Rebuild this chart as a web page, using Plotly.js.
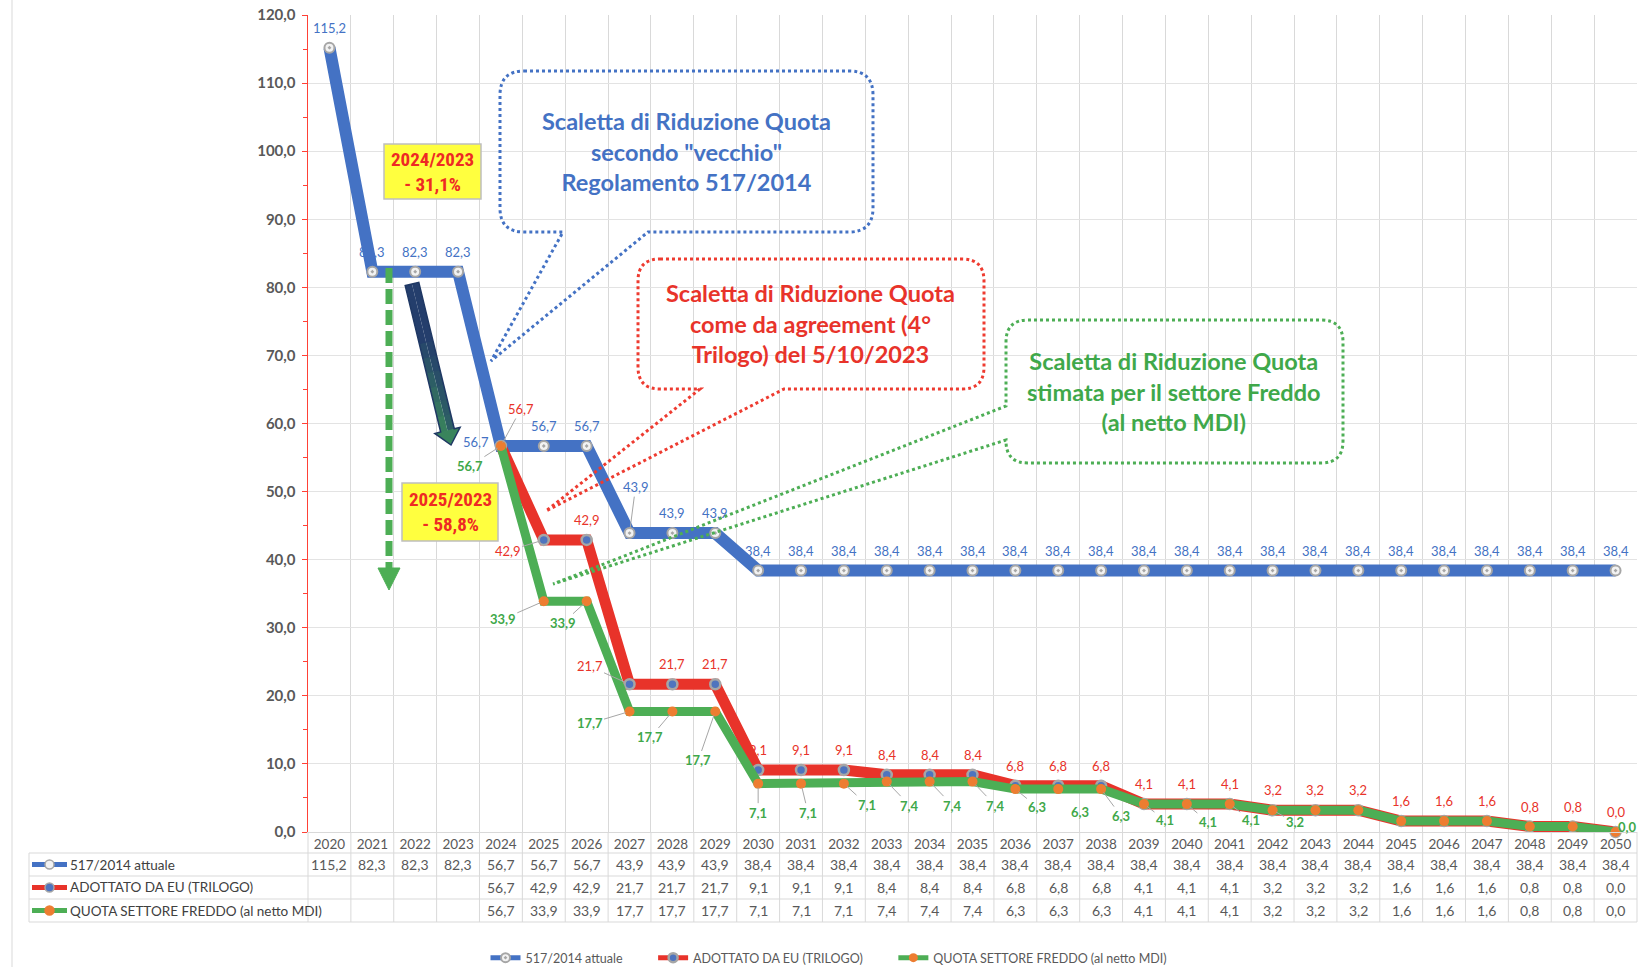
<!DOCTYPE html>
<html><head><meta charset="utf-8">
<script src="https://cdn.plot.ly/plotly-3.0.1.min.js"></script>
<style>html,body{margin:0;padding:0;background:#fff}#chart{width:1639px;height:967px}</style>
</head><body><div id="chart"></div>
<script>
// ---------------- DATA ----------------
const YEARS = ['2020','2021','2022','2023','2024','2025','2026','2027','2028','2029','2030',
  '2031','2032','2033','2034','2035','2036','2037','2038','2039','2040',
  '2041','2042','2043','2044','2045','2046','2047','2048','2049','2050'];
const SERIES_NAMES = ['517/2014 attuale', 'ADOTTATO DA EU (TRILOGO)', 'QUOTA SETTORE FREDDO (al netto MDI)'];
const BLUE_VALUES = [115.2, 82.3, 82.3, 82.3, 56.7, 56.7, 56.7, 43.9, 43.9, 43.9, 38.4,
  38.4, 38.4, 38.4, 38.4, 38.4, 38.4, 38.4, 38.4, 38.4, 38.4,
  38.4, 38.4, 38.4, 38.4, 38.4, 38.4, 38.4, 38.4, 38.4, 38.4];
const RED_VALUES = [null, null, null, null, 56.7, 42.9, 42.9, 21.7, 21.7, 21.7, 9.1,
  9.1, 9.1, 8.4, 8.4, 8.4, 6.8, 6.8, 6.8, 4.1, 4.1,
  4.1, 3.2, 3.2, 3.2, 1.6, 1.6, 1.6, 0.8, 0.8, 0.0];
const GREEN_VALUES = [null, null, null, null, 56.7, 33.9, 33.9, 17.7, 17.7, 17.7, 7.1,
  7.1, 7.1, 7.4, 7.4, 7.4, 6.3, 6.3, 6.3, 4.1, 4.1,
  4.1, 3.2, 3.2, 3.2, 1.6, 1.6, 1.6, 0.8, 0.8, 0.0];
const CALLOUT_TEXTS = [
  'Scaletta di Riduzione Quota<br>secondo "vecchio"<br>Regolamento 517/2014',
  'Scaletta di Riduzione Quota<br>come da agreement (4°<br>Trilogo) del 5/10/2023',
  'Scaletta di Riduzione Quota<br>stimata per il settore Freddo<br>(al netto MDI)'
];
const BOX_TEXTS = ['2024/2023<br>- 31,1%', '2025/2023<br>- 58,8%'];

// ---------------- STYLE / GEOMETRY ----------------
const FONT = 'Lato, "Noto Sans", sans-serif';
const NARROW = '"Liberation Sans Narrow", "Roboto Condensed", "Arial Narrow", Roboto, sans-serif';
const C_BLUE = '#4472C4', C_RED = '#E8332A', C_GREEN = '#4DAE55', C_GRAY = '#595959';
const W = 1639, H = 967, L = 308, R = 1637, T = 15, B = 832;
const PW = R - L, PH = B - T;
const NCAT = YEARS.length;
const px = x => (x - L) / PW, py = y => (B - y) / PH;
const P = (x, y) => px(x).toFixed(5) + ',' + py(y).toFixed(5);
const fmt = v => v.toFixed(1).replace('.', ',');

// label placements: [dx, dy, leader] in pixels; null = hidden
const BLUE_POS = {0: [0, -20], 4: [-25, -4], 7: [6, -46, true]};
const RED_POS = {4: [20, -37, true], 5: [-36, 11, true], 7: [-40, -18, true]};
const GREEN_POS = {4: [-31, 20, true], 5: [-41, 18, true], 6: [-24, 22, true], 7: [-40, 12, true],
  8: [-22, 26, true], 9: [-17, 49, true], 10: [0, 29, true], 11: [7, 29, true], 12: [23, 21, true],
  13: [23, 24, true], 14: [23, 24, true], 15: [23, 24, true], 16: [22, 18, true], 17: [22, 23, true],
  18: [20, 27, true], 19: [21, 16, true], 20: [21, 18, true], 21: [21, 16, true], 22: [22, 12, true],
  23: null, 24: null, 25: null, 26: null, 27: null, 28: null, 29: null, 30: [12, -5]};

function labelAnns(vals, color, weight, pos, def) {
  const out = [];
  vals.forEach((v, i) => {
    if (v === null) return;
    const p = (i in pos) ? pos[i] : def;
    if (p === null) return;
    const [dx, dy, leader] = p;
    const font = {family: FONT, size: 13, color: color, weight: weight};
    if (leader) {
      out.push({x: i, y: v, xref: 'x', yref: 'y', text: fmt(v), showarrow: true, ax: dx, ay: dy,
        arrowhead: 0, arrowwidth: 1, arrowcolor: '#A6A6A6', standoff: 4, font: font});
    } else {
      out.push({x: i, y: v, xref: 'x', yref: 'y', text: fmt(v), showarrow: false,
        xshift: dx, yshift: -dy, font: font});
    }
  });
  return out;
}

function bubble(x0, y0, x1, y1, r, tail) {
  let d = 'M' + P(x0 + r, y0) + ' L' + P(x1 - r, y0) + ' Q' + P(x1, y0) + ' ' + P(x1, y0 + r) +
    ' L' + P(x1, y1 - r) + ' Q' + P(x1, y1) + ' ' + P(x1 - r, y1);
  if (tail.side === 'bottom') d += ' L' + P(tail.b, y1) + ' L' + P(tail.tip[0], tail.tip[1]) + ' L' + P(tail.a, y1);
  d += ' L' + P(x0 + r, y1) + ' Q' + P(x0, y1) + ' ' + P(x0, y1 - r);
  if (tail.side === 'left') d += ' L' + P(x0, tail.b) + ' L' + P(tail.tip[0], tail.tip[1]) + ' L' + P(x0, tail.a);
  d += ' L' + P(x0, y0 + r) + ' Q' + P(x0, y0) + ' ' + P(x0 + r, y0) + ' Z';
  return d;
}

// ---------------- TRACES ----------------
const MK = [
  {symbol: 'circle-dot', size: 10, color: '#F2F2F2', line: {color: '#A6A6A6', width: 2}},
  {symbol: 'circle', size: 10, color: '#4F74BE', line: {color: '#A6A6A6', width: 2.5}},
  {symbol: 'circle', size: 10, color: '#ED7D31', line: {width: 0}}
];
const LINE_COLORS = [C_BLUE, C_RED, C_GREEN];
const traces = [
  {type: 'scatter', mode: 'lines+markers', x: YEARS, y: BLUE_VALUES, name: SERIES_NAMES[0], showlegend: false,
    line: {color: C_BLUE, width: 12}, cliponaxis: false, marker: MK[0]},
  {type: 'scatter', mode: 'lines+markers', x: YEARS, y: RED_VALUES, name: SERIES_NAMES[1], showlegend: false,
    line: {color: C_RED, width: 11}, cliponaxis: false, marker: MK[1]},
  {type: 'scatter', mode: 'lines+markers', x: YEARS, y: GREEN_VALUES, name: SERIES_NAMES[2], showlegend: false,
    line: {color: C_GREEN, width: 9}, cliponaxis: false, marker: MK[2]}
];
// legend entries (thin keys, as in the original legend)
const PAD = '\u00A0'.repeat(8);
SERIES_NAMES.forEach((nm, r) => traces.push({type: 'scatter', mode: 'lines+markers', x: [null], y: [null],
  name: nm + (r < 2 ? PAD : ''), showlegend: true, line: {color: LINE_COLORS[r], width: 5},
  marker: Object.assign({}, MK[r], {size: 9})}));

// ---------------- SHAPES ----------------
const shapes = [];
const GRID = '#D9D9D9';
// chart-area left border
shapes.push({type: 'line', xref: 'paper', yref: 'paper', x0: px(12), x1: px(12), y0: py(0), y1: py(H),
  line: {color: GRID, width: 1}});
// data table grid
[853, 876, 899, 922].forEach(y => shapes.push({type: 'line', xref: 'paper', yref: 'paper',
  x0: px(29), x1: 1, y0: py(y), y1: py(y), line: {color: GRID, width: 1}, layer: 'below'}));
shapes.push({type: 'line', xref: 'paper', yref: 'paper', x0: px(29), x1: px(29), y0: py(853), y1: py(922),
  line: {color: GRID, width: 1}, layer: 'below'});
for (let k = 0; k <= NCAT; k++) {
  const xx = k / NCAT;
  shapes.push({type: 'line', xref: 'paper', yref: 'paper', x0: xx, x1: xx, y0: py(922), y1: 0,
    line: {color: GRID, width: 1}, layer: 'below'});
}
// table legend keys
const KEY_STYLE = [
  {line: C_BLUE, fill: '#F2F2F2', stroke: '#A6A6A6'},
  {line: C_RED, fill: '#4F74BE', stroke: '#A6A6A6'},
  {line: C_GREEN, fill: '#ED7D31', stroke: '#ED7D31'}
];
const ROW_Y = [864.5, 887.5, 910.5];
ROW_Y.forEach((yc, r) => {
  shapes.push({type: 'line', xref: 'paper', yref: 'paper', x0: px(32), x1: px(67), y0: py(yc), y1: py(yc),
    line: {color: KEY_STYLE[r].line, width: 5}});
  shapes.push({type: 'circle', xref: 'paper', yref: 'paper', x0: px(45), x1: px(54), y0: py(yc - 4.5), y1: py(yc + 4.5),
    fillcolor: KEY_STYLE[r].fill, line: {color: KEY_STYLE[r].stroke, width: 1.5}});
});
// callout bubbles
shapes.push({type: 'path', xref: 'paper', yref: 'paper', fillcolor: 'rgba(0,0,0,0)',
  path: bubble(500, 71, 873, 232, 24, {side: 'bottom', a: 563, b: 648, tip: [491, 361]}),
  line: {color: C_BLUE, width: 3, dash: 'dot'}});
shapes.push({type: 'path', xref: 'paper', yref: 'paper', fillcolor: 'rgba(0,0,0,0)',
  path: bubble(638, 259, 984, 389, 22, {side: 'bottom', a: 700, b: 784, tip: [546, 511]}),
  line: {color: '#EE3B30', width: 3, dash: 'dot'}});
shapes.push({type: 'path', xref: 'paper', yref: 'paper', fillcolor: 'rgba(0,0,0,0)',
  path: bubble(1006, 320, 1343, 463, 22, {side: 'left', a: 406, b: 440, tip: [553, 584]}),
  line: {color: C_GREEN, width: 3, dash: 'dot'}});
// yellow boxes
[[384, 144, 481, 199], [402, 483, 498, 541]].forEach(b => shapes.push({type: 'rect', xref: 'paper', yref: 'paper',
  x0: px(b[0]), x1: px(b[2]), y0: py(b[1]), y1: py(b[3]), fillcolor: '#FFFF3F', line: {color: '#BFBFBF', width: 1.5}}));
// green dashed arrow
shapes.push({type: 'line', xref: 'paper', yref: 'paper', x0: px(389), x1: px(389), y0: py(268), y1: py(570),
  line: {color: C_GREEN, width: 7, dash: '15px,6px'}});
shapes.push({type: 'path', xref: 'paper', yref: 'paper', path: 'M' + P(378, 568) + ' L' + P(400, 568) + ' L' + P(389, 590) + ' Z',
  fillcolor: C_GREEN, line: {color: C_GREEN, width: 1}});
// navy-to-green gradient arrow
(function () {
  const A = [412, 284], Tp = [451, 445];
  const dx = Tp[0] - A[0], dy = Tp[1] - A[1], len = Math.hypot(dx, dy);
  const u = [dx / len, dy / len], n = [u[1], -u[0]];
  const sw = 7, hw = 13, hl = 15;
  const at = (t, s) => [A[0] + u[0] * t + n[0] * s, A[1] + u[1] * t + n[1] * s];
  const c0 = [36, 62, 108], c1 = [62, 150, 88];
  const col = f => 'rgb(' + c0.map((c, k) => Math.round(c + (c1[k] - c) * f)).join(',') + ')';
  const shaftLen = len - hl, NB = 10;
  for (let b = 0; b < NB; b++) {
    const t0 = shaftLen * b / NB, t1 = shaftLen * (b + 1) / NB + 0.8;
    const f = Math.max(0, (b - 3) / (NB - 3)) * 0.85;
    // left (dark) half and right (greener) half
    const qL = [at(t0, sw), at(t1, sw), at(t1, 0), at(t0, 0)];
    const qR = [at(t0, 0), at(t1, 0), at(t1, -sw), at(t0, -sw)];
    shapes.push({type: 'path', xref: 'paper', yref: 'paper', path: 'M' + qL.map(p => P(p[0], p[1])).join(' L') + ' Z',
      fillcolor: col(f * 0.5), line: {width: 0}});
    shapes.push({type: 'path', xref: 'paper', yref: 'paper', path: 'M' + qR.map(p => P(p[0], p[1])).join(' L') + ' Z',
      fillcolor: col(f), line: {width: 0}});
  }
  const head = [at(shaftLen, hw), Tp, at(shaftLen, -hw)];
  shapes.push({type: 'path', xref: 'paper', yref: 'paper', path: 'M' + head.map(p => P(p[0], p[1])).join(' L') + ' Z',
    fillcolor: col(0.8), line: {width: 0}});
  const outline = [at(0, sw), at(shaftLen, sw), at(shaftLen, hw), Tp, at(shaftLen, -hw), at(shaftLen, -sw), at(0, -sw)];
  shapes.push({type: 'path', xref: 'paper', yref: 'paper',
    path: 'M' + outline.map(p => P(p[0], p[1])).join(' L') + ' Z',
    fillcolor: 'rgba(0,0,0,0)', line: {color: '#1F3864', width: 1.5}});
})();

// ---------------- ANNOTATIONS ----------------
let annotations = [];
annotations = annotations.concat(labelAnns(BLUE_VALUES, C_BLUE, 'normal', BLUE_POS, [0, -20]));
annotations = annotations.concat(labelAnns(RED_VALUES, C_RED, 'normal', RED_POS, [0, -20]));
annotations = annotations.concat(labelAnns(GREEN_VALUES, '#3FA84A', 'bold', GREEN_POS, [0, 24, true]));
// table rows
[BLUE_VALUES, RED_VALUES, GREEN_VALUES].forEach((vals, r) => {
  annotations.push({xref: 'paper', yref: 'paper', x: px(68), y: py(ROW_Y[r]), xanchor: 'left', yanchor: 'middle',
    text: SERIES_NAMES[r], showarrow: false, font: {family: FONT, size: 13.5, color: '#404040'}});
  vals.forEach((v, i) => {
    if (v === null) return;
    annotations.push({xref: 'x', yref: 'paper', x: i, y: py(ROW_Y[r]), yanchor: 'middle',
      text: fmt(v), showarrow: false, font: {family: FONT, size: 14, color: C_GRAY}});
  });
});
// callout texts
[[CALLOUT_TEXTS[0], 686, 151, C_BLUE], [CALLOUT_TEXTS[1], 810, 323, C_RED], [CALLOUT_TEXTS[2], 1174, 391, '#3FA84A']]
  .forEach(c => annotations.push({xref: 'paper', yref: 'paper', x: px(c[1]), y: py(c[2]), xanchor: 'center', yanchor: 'middle',
    text: c[0], showarrow: false, align: 'center', font: {family: FONT, size: 23.5, color: c[3], weight: 'bold'}}));
// yellow box texts
[[BOX_TEXTS[0], 432.5, 171.5], [BOX_TEXTS[1], 450, 512]].forEach(c => annotations.push({xref: 'paper', yref: 'paper',
  x: px(c[1]), y: py(c[2]), xanchor: 'center', yanchor: 'middle', text: c[0], showarrow: false, align: 'center',
  font: {family: NARROW, size: 19, color: '#EE2A24', weight: 'bold'}}));

// ---------------- LAYOUT ----------------
const layout = {
  width: W, height: H,
  margin: {l: L, r: W - R, t: T, b: H - B, pad: 0},
  paper_bgcolor: '#FFFFFF', plot_bgcolor: '#FFFFFF',
  separators: ',.',
  font: {family: FONT, color: C_GRAY},
  showlegend: true,
  legend: {orientation: 'h', xref: 'container', yref: 'container', x: 829 / W, xanchor: 'center',
    y: 1 - 958 / H, yanchor: 'middle',
    font: {family: FONT, size: 12.5, color: C_GRAY}, itemwidth: 30, traceorder: 'normal'},
  xaxis: {type: 'category', range: [-0.5, NCAT - 0.5], tickson: 'boundaries', showgrid: true,
    gridcolor: GRID, gridwidth: 1, showline: true, linecolor: GRID, ticks: '', automargin: false,
    tickfont: {family: FONT, size: 13.5, color: C_GRAY}, fixedrange: true, zeroline: false},
  yaxis: {range: [0, 120], tick0: 0, dtick: 10, tickformat: '.1f', showgrid: true, gridcolor: '#E3E3E3',
    showline: true, linecolor: '#FF4136', linewidth: 1.5, ticks: 'outside', ticklen: 5, tickcolor: '#FF4136',
    automargin: false, ticklabelstandoff: 3,
    tickfont: {family: FONT, size: 15, color: C_GRAY, weight: 'bold'}, zeroline: false, fixedrange: true,
    minor: {dtick: 5, ticks: 'outside', ticklen: 4, tickcolor: '#FF4136', showgrid: false}},
  shapes: shapes,
  annotations: annotations
};

Plotly.newPlot('chart', traces, layout, {displayModeBar: false, staticPlot: true});
</script>
</body></html>
